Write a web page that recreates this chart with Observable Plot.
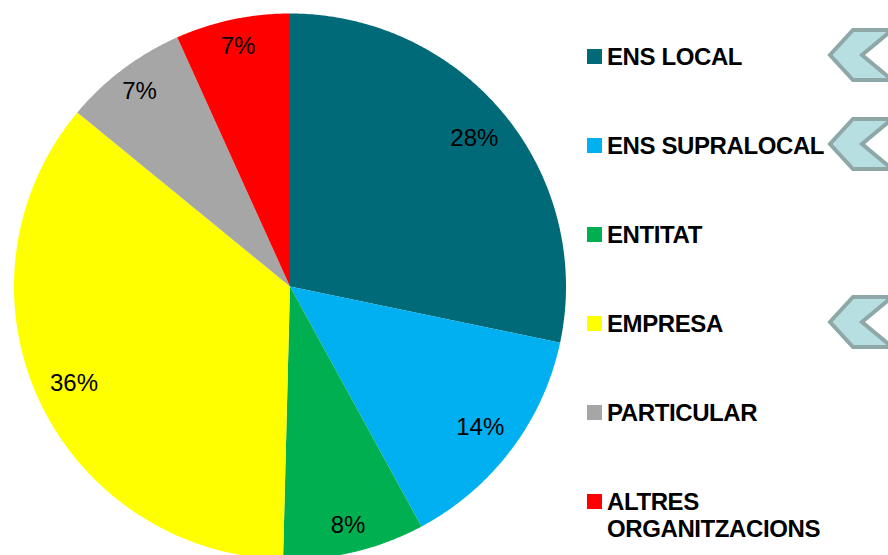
<!DOCTYPE html>
<html>
<head>
<meta charset="utf-8">
<script src="https://cdn.jsdelivr.net/npm/d3@7"></script>
<script src="https://cdn.jsdelivr.net/npm/@observablehq/plot@0.6"></script>
<style>
  html, body { margin: 0; padding: 0; background: #fff; }
  #wrap { position: relative; width: 888px; height: 555px; overflow: hidden; font-family: "Liberation Sans", Arial, sans-serif; }
  #legend { position: absolute; left: 0; top: 0; width: 888px; height: 555px; pointer-events: none; }
  .row { position: absolute; left: 587px; display: flex; align-items: flex-start; }
  .sw { width: 15px; height: 15px; margin-top: 6px; margin-right: 5px; flex: none; }
  .lab { font-weight: bold; font-size: 24px; line-height: 27px; letter-spacing: -0.4px; color: #000; white-space: nowrap; }
  #chev { position: absolute; left: 0; top: 0; }
</style>
</head>
<body>
<div id="wrap"></div>
<script>
// ---- data ----
const categories = ["ENS LOCAL", "ENS SUPRALOCAL", "ENTITAT", "EMPRESA", "PARTICULAR", "ALTRES ORGANITZACIONS"];
const legendLines = [["ENS LOCAL"], ["ENS SUPRALOCAL"], ["ENTITAT"], ["EMPRESA"], ["PARTICULAR"], ["ALTRES", "ORGANITZACIONS"]];
const shares = [28.3, 13.8, 8.3, 35.6, 7.3, 6.7];
const labels = ["28%", "14%", "8%", "36%", "7%", "7%"];
const colors = ["#006A78", "#00B0F0", "#00B050", "#FFFF00", "#A6A6A6", "#FF0000"];
const highlighted = [true, true, false, true, false, false];

// ---- pie geometry from data (unit circle, clockwise from top) ----
const pie = d3.pie().sort(null).value(d => d.share)(categories.map((c, i) => ({cat: c, share: shares[i], label: labels[i]})));
const slicePts = [];
for (const s of pie) {
  const a0 = s.startAngle, a1 = s.endAngle;
  const n = Math.max(4, Math.ceil((a1 - a0) / (Math.PI / 360)));
  slicePts.push({cat: s.data.cat, x: 0, y: 0});
  for (let k = 0; k <= n; k++) {
    const a = a0 + (a1 - a0) * k / n;
    slicePts.push({cat: s.data.cat, x: Math.sin(a), y: Math.cos(a)});
  }
  slicePts.push({cat: s.data.cat, x: 0, y: 0});
}
const labelPts = pie.map(s => {
  const a = (s.startAngle + s.endAngle) / 2;
  const r = s.data.share < 10 ? 0.9 : 0.86;
  return {label: s.data.label, x: r * Math.sin(a), y: r * Math.cos(a)};
});

const W = 888, H = 555, cx = 289.5, cy = 286, rx = 276, ry = 273;
const chart = Plot.plot({
  width: W, height: H,
  margin: 0,
  x: {domain: [-cx / rx, (W - cx) / rx], axis: null},
  y: {domain: [-(H - cy) / ry, cy / ry], axis: null},
  color: {type: "ordinal", domain: categories, range: colors},
  style: {fontFamily: "'Liberation Sans', Arial, sans-serif", background: "white"},
  marks: [
    Plot.line(slicePts, {x: "x", y: "y", z: "cat", fill: "cat", stroke: "none", curve: "linear"}),
    Plot.text(labelPts, {x: "x", y: "y", text: "label", fontSize: 24, fill: "#000"})
  ]
});
const wrap = document.getElementById("wrap");
wrap.appendChild(chart);

// ---- legend (HTML) ----
const colorScale = chart.scale("color");
const legend = document.createElement("div");
legend.id = "legend";
const ns = "http://www.w3.org/2000/svg";
const chev = document.createElementNS(ns, "svg");
chev.setAttribute("id", "chev");
chev.setAttribute("width", W);
chev.setAttribute("height", H);
legend.appendChild(chev);
categories.forEach((c, i) => {
  const center = 56 + 89 * i;
  const row = document.createElement("div");
  row.className = "row";
  row.style.top = (center - 13.5) + "px";
  const sw = document.createElement("div");
  sw.className = "sw";
  sw.style.background = colorScale.apply(c);
  const lab = document.createElement("div");
  lab.className = "lab";
  lab.innerHTML = legendLines[i].join("<br>");
  row.appendChild(sw);
  row.appendChild(lab);
  legend.appendChild(row);
  if (highlighted[i]) {
    const c0 = center - 1;
    const p = document.createElementNS(ns, "polygon");
    p.setAttribute("points", [[853, c0 - 25], [892, c0 - 25], [862, c0], [892, c0 + 25], [853, c0 + 25], [830, c0]].map(q => q.join(",")).join(" "));
    p.setAttribute("fill", "#B7DEE0");
    p.setAttribute("stroke", "#8EA8A8");
    p.setAttribute("stroke-width", "4");
    chev.appendChild(p);
  }
});
wrap.appendChild(legend);
</script>
</body>
</html>
